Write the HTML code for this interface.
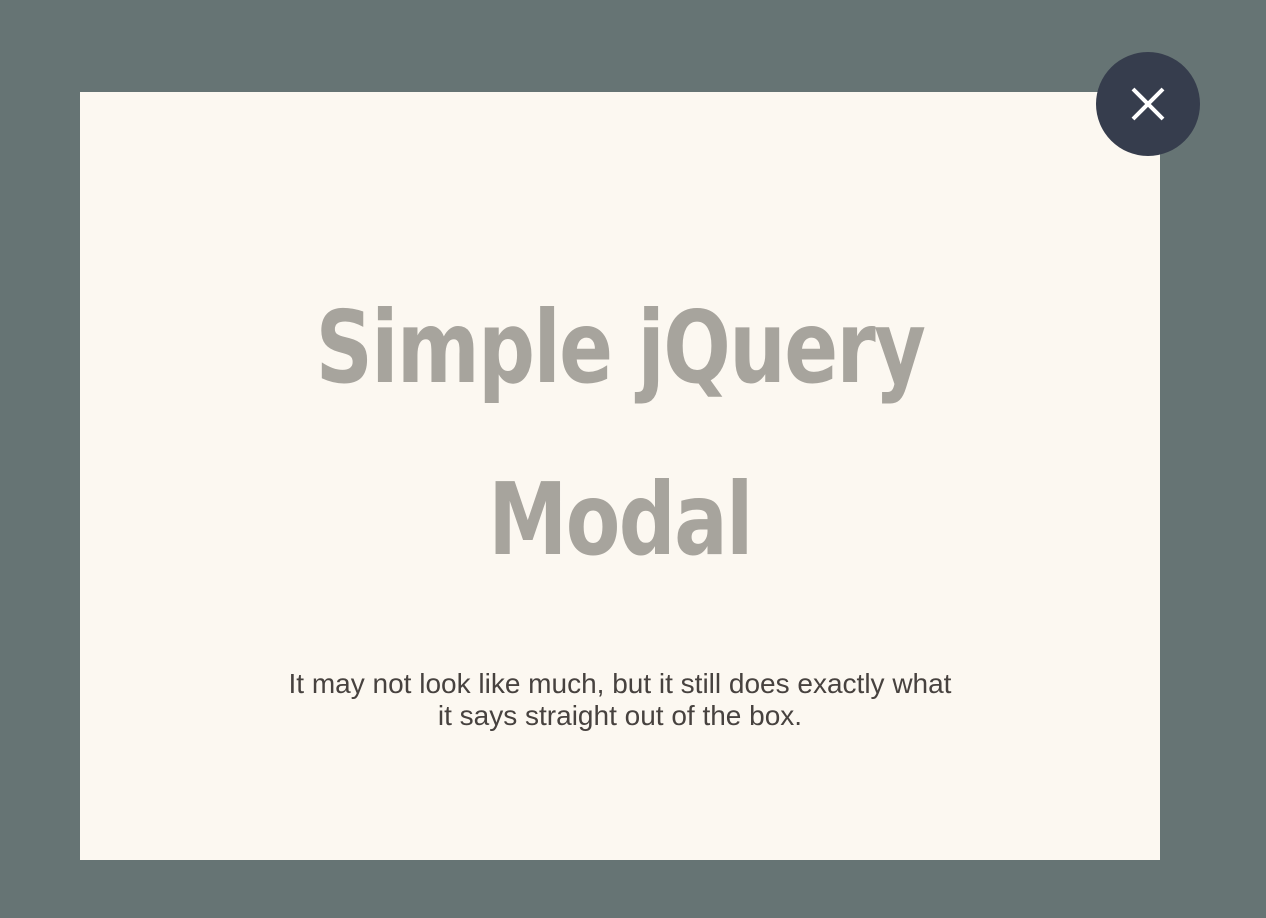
<!DOCTYPE html>
<html><head><style>
html,body{margin:0;padding:0;width:1266px;height:918px;background:#667474;overflow:hidden;font-family:"Liberation Sans",sans-serif}
.modal{position:absolute;left:80px;top:92px;width:1080px;height:768px;background:#fcf8f1}
h1{position:absolute;left:0;width:1080px;top:170px;margin:0;text-align:center;font-size:100px;line-height:172px;font-weight:bold;color:#a7a49d;font-family:"DejaVu Sans","Liberation Sans",sans-serif;letter-spacing:-2px;transform:scaleX(0.795);transform-origin:540px 0}
p{position:absolute;left:190px;width:700px;top:576px;margin:0;text-align:center;font-size:28px;line-height:32px;color:#47423f}
.close{position:absolute;left:1096px;top:52px;width:104px;height:104px;border-radius:50%;background:#363d4d}
</style></head><body>
<div class="modal"><h1>Simple jQuery<br>Modal</h1>
<p>It may not look like much, but it still does exactly what<br>it says straight out of the box.</p></div>
<div class="close"><svg width="104" height="104"><path d="M37 37L67 67M67 37L37 67" stroke="#fff" stroke-width="4"/></svg></div>
</body></html>
